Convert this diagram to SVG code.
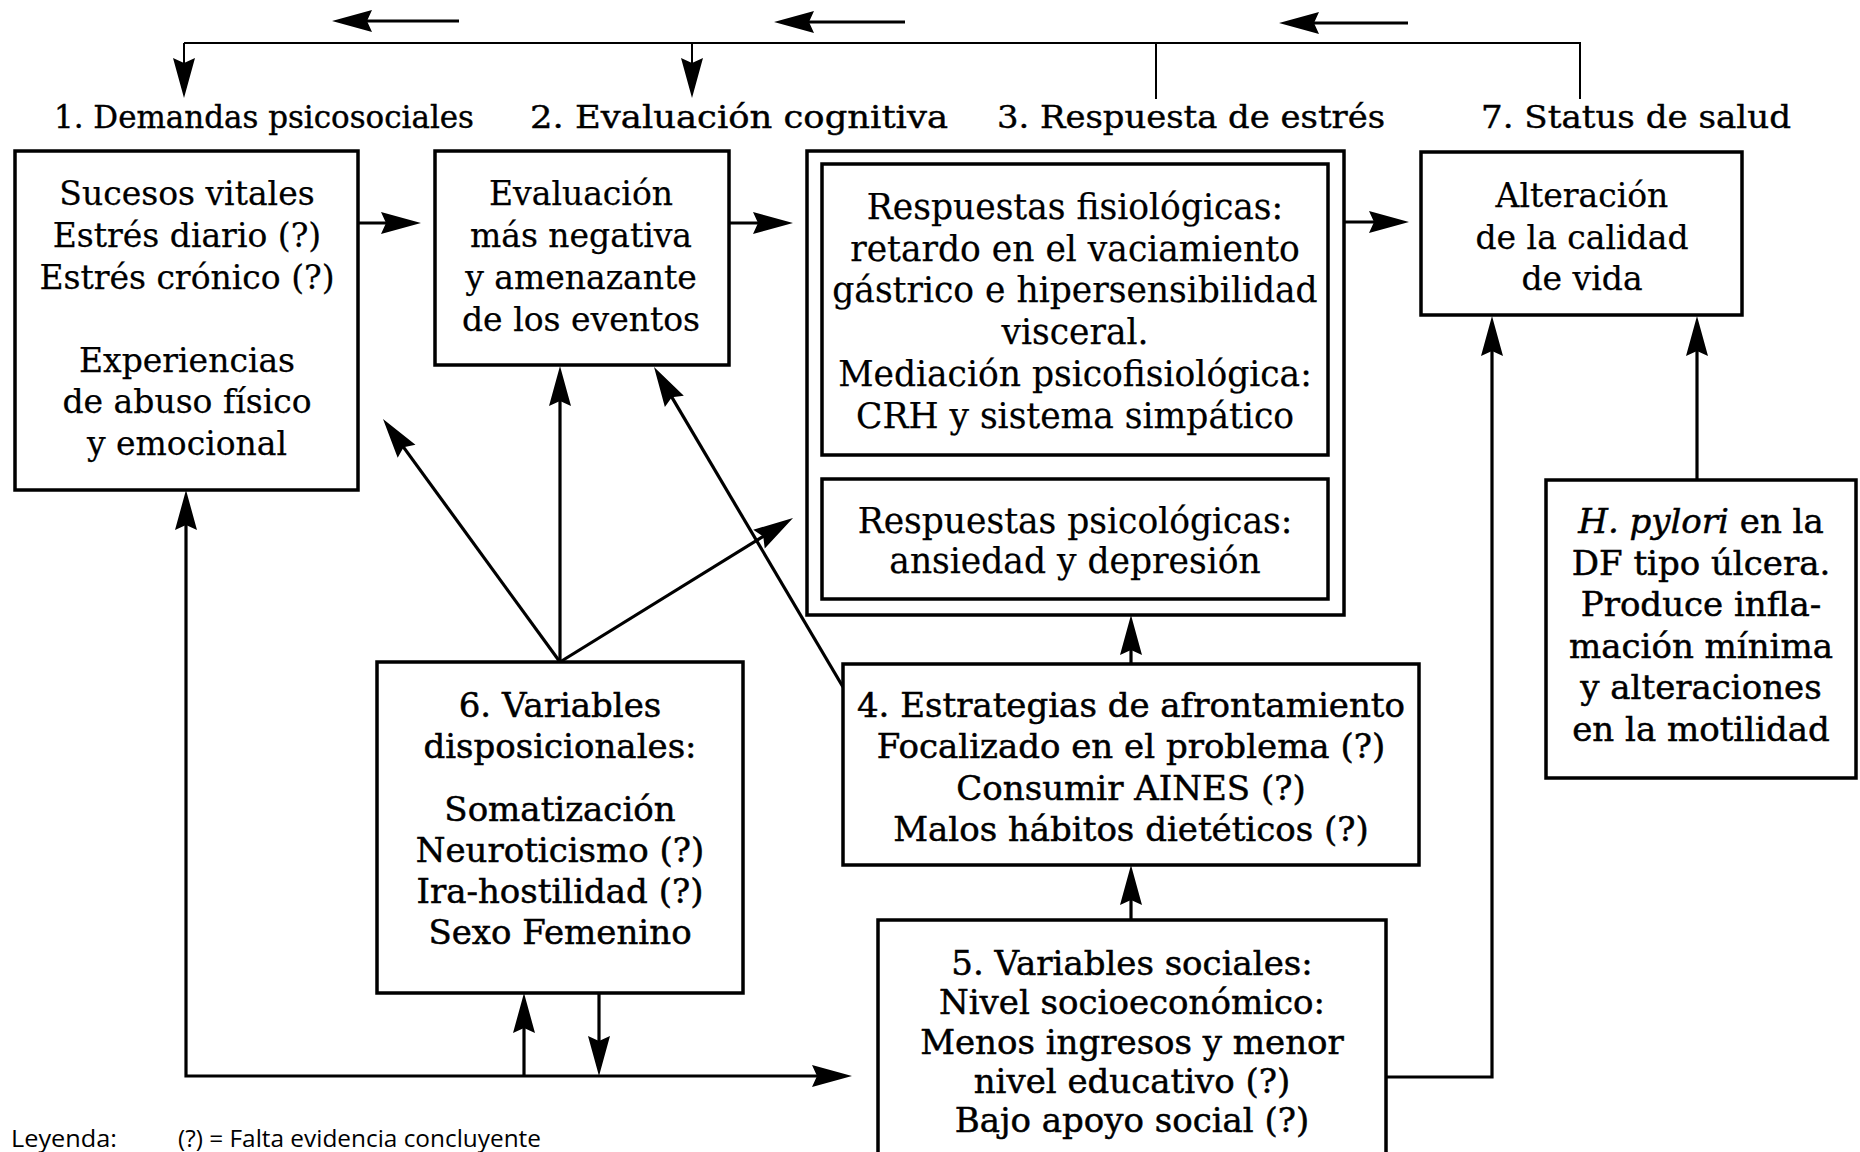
<svg xmlns="http://www.w3.org/2000/svg" width="1860" height="1152" viewBox="0 0 1860 1152">
<style>
.box{fill:#fff;stroke:#000;stroke-width:3.5}
.ln{fill:none;stroke:#000;stroke-width:3.2}
.thin{fill:none;stroke:#000;stroke-width:2}
.hd{font-family:"DejaVu Serif",serif;font-size:31px;text-anchor:middle;fill:#000;stroke:#000;stroke-width:0.4}
.t1{font-family:"DejaVu Serif",serif;font-size:33px;text-anchor:middle;fill:#000;stroke:#000;stroke-width:0.25}
.t3{font-size:34.5px}
.t2{font-family:"DejaVu Serif",serif;font-size:34px;text-anchor:middle;fill:#000;stroke:#000;stroke-width:0.5}
.lg{font-family:"Open Sans","Noto Sans",sans-serif;font-size:23px;fill:#000}
</style>
<defs>
<marker id="ah" markerUnits="userSpaceOnUse" markerWidth="46" markerHeight="26" viewBox="-33 -13 46 26" refX="0" refY="0" orient="auto">
<path d="M10,0 L-30,-11 L-25,0 L-30,11 Z" fill="#000"/>
</marker>
<marker id="ahs" markerUnits="userSpaceOnUse" markerWidth="46" markerHeight="26" viewBox="-33 -13 46 26" refX="0" refY="0" orient="auto-start-reverse">
<path d="M10,0 L-30,-11 L-25,0 L-30,11 Z" fill="#000"/>
</marker>
</defs>
<rect width="1860" height="1152" fill="#fff"/>

<g id="connectors">
<path class="thin" d="M1580,99 L1580,43 L184,43"/>
<path class="thin" d="M1156,99 L1156,43"/>
<path class="thin" d="M184,43 L184,88" marker-end="url(#ah)"/>
<path class="thin" d="M692,43 L692,88" marker-end="url(#ah)"/>
<path class="ln" d="M459,21 L342,21" marker-end="url(#ah)"/>
<path class="ln" d="M905,22 L784,22" marker-end="url(#ah)"/>
<path class="ln" d="M1408,23 L1289,23" marker-end="url(#ah)"/>
<path class="ln" d="M358,223 L411,223" marker-end="url(#ah)"/>
<path class="ln" d="M729,223 L783,223" marker-end="url(#ah)"/>
<path class="ln" d="M1344,222 L1399,222" marker-end="url(#ah)"/>
<path class="thin" d="M1078,455 L1078,479"/>
<path class="ln" d="M560,662 L388.9,427.1" marker-end="url(#ah)"/>
<path class="ln" d="M560,662 L560,376" marker-end="url(#ah)"/>
<path class="ln" d="M560,662 L784.5,523.3" marker-end="url(#ah)"/>
<path class="ln" d="M843,687 L659.1,375.6" marker-end="url(#ah)"/>
<path class="ln" d="M1131,664 L1131,625" marker-end="url(#ah)"/>
<path class="ln" d="M1131,920 L1131,875" marker-end="url(#ah)"/>
<path class="ln" d="M1386,1077 L1492,1077 L1492,326" marker-end="url(#ah)"/>
<path class="ln" d="M1697,480 L1697,326" marker-end="url(#ah)"/>
<path class="ln" d="M186,500 L186,1076 L842,1076" marker-start="url(#ahs)" marker-end="url(#ah)"/>
<path class="ln" d="M524,1076 L524,1003" marker-end="url(#ah)"/>
<path class="ln" d="M599,993 L599,1066" marker-end="url(#ah)"/>
</g>

<g id="label-1"><text class="hd" x="264" y="128" textLength="420" lengthAdjust="spacingAndGlyphs">1.  Demandas psicosociales</text></g>
<g id="label-2"><text class="hd" x="739" y="128" textLength="418" lengthAdjust="spacingAndGlyphs">2.  Evaluación cognitiva</text></g>
<g id="label-3"><text class="hd" x="1191" y="128" textLength="388" lengthAdjust="spacingAndGlyphs">3.  Respuesta de estrés</text></g>
<g id="label-7"><text class="hd" x="1636" y="128" textLength="310" lengthAdjust="spacingAndGlyphs">7.  Status de salud</text></g>

<g id="node-1">
<rect class="box" x="15" y="151" width="343" height="339"/>
<text class="t1" x="187" y="205">Sucesos vitales</text>
<text class="t1" x="187" y="247">Estrés diario (?)</text>
<text class="t1" x="187" y="289">Estrés crónico (?)</text>
<text class="t1" x="187" y="372">Experiencias</text>
<text class="t1" x="187" y="413">de abuso físico</text>
<text class="t1" x="187" y="455">y emocional</text>
</g>

<g id="node-2">
<rect class="box" x="435" y="151" width="294" height="214"/>
<text class="t1" x="581" y="205">Evaluación</text>
<text class="t1" x="581" y="247">más negativa</text>
<text class="t1" x="581" y="289">y amenazante</text>
<text class="t1" x="581" y="331">de los eventos</text>
</g>

<g id="node-3">
<rect class="box" x="807" y="151" width="537" height="464"/>
<rect class="box" x="822" y="164" width="506" height="291"/>
<rect class="box" x="822" y="479" width="506" height="120"/>
<text class="t1 t3" x="1075" y="219">Respuestas fisiológicas:</text>
<text class="t1 t3" x="1075" y="261">retardo en el vaciamiento</text>
<text class="t1 t3" x="1075" y="302">gástrico e hipersensibilidad</text>
<text class="t1 t3" x="1075" y="344">visceral.</text>
<text class="t1 t3" x="1075" y="386">Mediación psicofisiológica:</text>
<text class="t1 t3" x="1075" y="428">CRH y sistema simpático</text>
<text class="t1 t3" x="1075" y="533">Respuestas psicológicas:</text>
<text class="t1 t3" x="1075" y="573">ansiedad y depresión</text>
</g>

<g id="node-7">
<rect class="box" x="1421" y="152" width="321" height="163"/>
<text class="t1" x="1582" y="207">Alteración</text>
<text class="t1" x="1582" y="249">de la calidad</text>
<text class="t1" x="1582" y="290">de vida</text>
</g>

<g id="node-hpylori">
<rect class="box" x="1546" y="480" width="310" height="298"/>
<text class="t2" x="1701" y="533"><tspan font-style="italic">H. pylori</tspan> en la</text>
<text class="t2" x="1701" y="575">DF tipo úlcera.</text>
<text class="t2" x="1701" y="616">Produce infla-</text>
<text class="t2" x="1701" y="658">mación mínima</text>
<text class="t2" x="1701" y="699">y alteraciones</text>
<text class="t2" x="1701" y="741">en la motilidad</text>
</g>

<g id="node-6">
<rect class="box" x="377" y="662" width="366" height="331"/>
<text class="t2" x="560" y="717">6. Variables</text>
<text class="t2" x="560" y="758">disposicionales:</text>
<text class="t2" x="560" y="821">Somatización</text>
<text class="t2" x="560" y="862">Neuroticismo (?)</text>
<text class="t2" x="560" y="903">Ira-hostilidad (?)</text>
<text class="t2" x="560" y="944">Sexo Femenino</text>
</g>

<g id="node-4">
<rect class="box" x="843" y="664" width="576" height="201"/>
<text class="t2" x="1131" y="717">4. Estrategias de afrontamiento</text>
<text class="t2" x="1131" y="758">Focalizado en el problema (?)</text>
<text class="t2" x="1131" y="800">Consumir AINES (?)</text>
<text class="t2" x="1131" y="841">Malos hábitos dietéticos (?)</text>
</g>

<g id="node-5">
<rect class="box" x="878" y="920" width="508" height="260"/>
<text class="t2" x="1132" y="975">5. Variables sociales:</text>
<text class="t2" x="1132" y="1014">Nivel socioeconómico:</text>
<text class="t2" x="1132" y="1054">Menos ingresos y menor</text>
<text class="t2" x="1132" y="1093">nivel educativo (?)</text>
<text class="t2" x="1132" y="1132">Bajo apoyo social (?)</text>
</g>

<g id="legend">
<text class="lg" x="11" y="1147" textLength="106" lengthAdjust="spacingAndGlyphs">Leyenda:</text>
<text class="lg" x="178" y="1147" textLength="363" lengthAdjust="spacingAndGlyphs">(?) = Falta evidencia concluyente</text>
</g>
</svg>
